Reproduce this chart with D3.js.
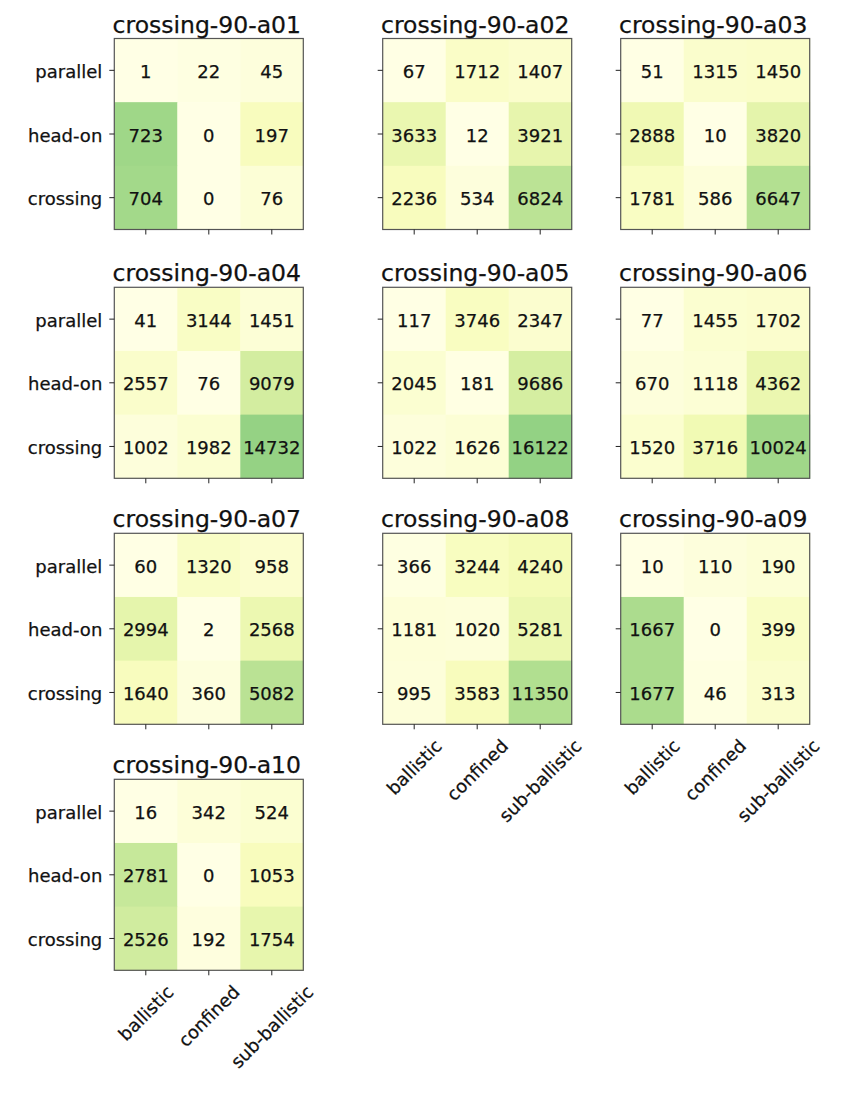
<!DOCTYPE html>
<html>
<head>
<meta charset="utf-8">
<script src="https://cdn.jsdelivr.net/npm/d3@7"></script>
<style>
  html, body { margin: 0; padding: 0; background: #ffffff; }
  svg { display: block; }
  text { font-family: "DejaVu Sans", sans-serif; fill: #111; stroke: #111; stroke-width: 0.25px; }
</style>
</head>
<body>
<script>
// ---- data ----
const rowLabels = ["parallel", "head-on", "crossing"];
const colLabels = ["ballistic", "confined", "sub-ballistic"];
const panelNames = ["crossing-90-a01", "crossing-90-a02", "crossing-90-a03",
                    "crossing-90-a04", "crossing-90-a05", "crossing-90-a06",
                    "crossing-90-a07", "crossing-90-a08", "crossing-90-a09",
                    "crossing-90-a10"];
const a01 = [[1, 22, 45], [723, 0, 197], [704, 0, 76]];
const a02 = [[67, 1712, 1407], [3633, 12, 3921], [2236, 534, 6824]];
const a03 = [[51, 1315, 1450], [2888, 10, 3820], [1781, 586, 6647]];
const a04 = [[41, 3144, 1451], [2557, 76, 9079], [1002, 1982, 14732]];
const a05 = [[117, 3746, 2347], [2045, 181, 9686], [1022, 1626, 16122]];
const a06 = [[77, 1455, 1702], [670, 1118, 4362], [1520, 3716, 10024]];
const a07 = [[60, 1320, 958], [2994, 2, 2568], [1640, 360, 5082]];
const a08 = [[366, 3244, 4240], [1181, 1020, 5281], [995, 3583, 11350]];
const a09 = [[10, 110, 190], [1667, 0, 399], [1677, 46, 313]];
const a10 = [[16, 342, 524], [2781, 0, 1053], [2526, 192, 1754]];
const panelValues = [a01, a02, a03, a04, a05, a06, a07, a08, a09, a10];

// ---- layout ----
const W = 844, H = 1093;
const colLeft = [114.3, 382.7, 620.7];
const rowTop = [38.5, 287.3, 533.3, 779.3];
const pw = 189, ph = 191;
const nCols = 3;
const lastRowOfCol = [3, 2, 2];
const fsTick = 18, fsVal = 18, fsTitle = 23.5;

const svg = d3.select("body").append("svg")
  .attr("width", W).attr("height", H);
svg.append("rect").attr("width", W).attr("height", H).attr("fill", "#fff");

// matplotlib-like YlGn: linear through the 9 ColorBrewer stops
const ylgn = d3.schemeYlGn[9];
const color = d3.scaleLinear()
  .domain(d3.range(9).map(i => i / 8))
  .range(ylgn)
  .interpolate(d3.interpolateRgb)
  .clamp(true);

panelNames.forEach((name, idx) => {
  const ci = idx % nCols, ri = Math.floor(idx / nCols);
  const x0 = colLeft[ci], y0 = rowTop[ri];
  const vals = panelValues[idx];
  const total = d3.sum(vals.flat());

  const x = d3.scaleBand().domain(colLabels).range([0, pw]);
  const y = d3.scaleBand().domain(rowLabels).range([0, ph]);

  const g = svg.append("g").attr("transform", `translate(${x0},${y0})`);

  const cells = [];
  vals.forEach((row, r) => row.forEach((v, c) => cells.push({r: rowLabels[r], c: colLabels[c], v})));

  g.selectAll("rect.cell").data(cells).enter().append("rect")
    .attr("class", "cell")
    .attr("x", d => x(d.c)).attr("y", d => y(d.r))
    .attr("width", x.bandwidth() + 0.5).attr("height", y.bandwidth() + 0.5)
    .attr("fill", d => color(d.v / total));

  g.selectAll("text.val").data(cells).enter().append("text")
    .attr("class", "val")
    .attr("x", d => x(d.c) + x.bandwidth() / 2)
    .attr("y", d => y(d.r) + y.bandwidth() / 2 + 1)
    .attr("text-anchor", "middle")
    .attr("dominant-baseline", "central")
    .style("font-size", fsVal + "px")
    .text(d => d.v);

  // frame
  g.append("rect").attr("x", 0).attr("y", 0).attr("width", pw).attr("height", ph)
    .attr("fill", "none").attr("stroke", "#555").attr("stroke-width", 1.2);

  // title
  g.append("text")
    .attr("x", pw / 2 - 2).attr("y", -6)
    .attr("text-anchor", "middle")
    .style("font-size", fsTitle + "px")
    .text(name);

  // y ticks
  g.selectAll("line.yt").data(rowLabels).enter().append("line")
    .attr("x1", -5).attr("x2", 0)
    .attr("y1", d => y(d) + y.bandwidth() / 2).attr("y2", d => y(d) + y.bandwidth() / 2)
    .attr("stroke", "#222").attr("stroke-width", 1);
  if (ci === 0) {
    g.selectAll("text.yl").data(rowLabels).enter().append("text")
      .attr("x", -12)
      .attr("y", d => y(d) + y.bandwidth() / 2 + 1)
      .attr("text-anchor", "end")
      .attr("dominant-baseline", "central")
      .style("font-size", fsTick + "px")
      .text(d => d);
  }

  // x ticks
  g.selectAll("line.xt").data(colLabels).enter().append("line")
    .attr("x1", d => x(d) + x.bandwidth() / 2).attr("x2", d => x(d) + x.bandwidth() / 2)
    .attr("y1", ph).attr("y2", ph + 5)
    .attr("stroke", "#222").attr("stroke-width", 1);
  if (ri === lastRowOfCol[ci]) {
    g.selectAll("text.xl").data(colLabels).enter().append("text")
      .attr("text-anchor", "middle")
      .attr("dominant-baseline", "central")
      .style("font-size", fsTick + "px")
      .text(d => d)
      .each(function(d) {
        const w = this.getComputedTextLength();
        const hh = fsTick * 1.0;
        const half = (w + hh) * Math.SQRT1_2 / 2;
        const cx = x(d) + x.bandwidth() / 2;
        const cy = ph + 5 + 7 + half;
        d3.select(this).attr("transform", `translate(${cx},${cy}) rotate(-45)`);
      });
  }
});
</script>
</body>
</html>
